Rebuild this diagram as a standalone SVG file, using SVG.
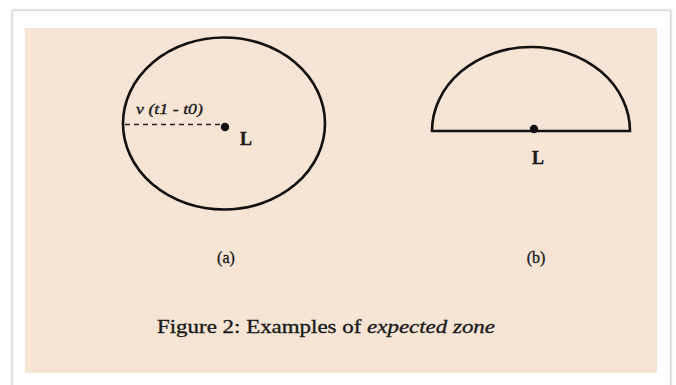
<svg xmlns="http://www.w3.org/2000/svg" width="676" height="385" viewBox="0 0 676 385">
<defs>
<style>
.ln{fill:none;stroke:#111;stroke-width:2.6}
.lbl{fill:#1a1a1a;stroke:#1a1a1a;stroke-width:0.35}
.b{font-weight:bold}
</style>
<filter id="sh" x="-5%" y="-5%" width="110%" height="110%"><feGaussianBlur stdDeviation="1.2"/></filter>
</defs>
<rect width="676" height="385" fill="#ffffff"/>
<g id="frame">
<rect x="13" y="11" width="657" height="380" fill="none" stroke="#b8b8b8" stroke-width="2" filter="url(#sh)"/>
<rect x="13" y="11" width="657" height="380" fill="#ffffff"/>
<rect x="25" y="28" width="632" height="345" fill="#f6e5d5"/>
</g>
<g id="zone-a" font-family="'Liberation Serif', 'Times New Roman', serif">
<ellipse class="ln" cx="224" cy="123.5" rx="101" ry="86"/>
<circle cx="225" cy="127" r="4.2" fill="#111"/>
<text class="lbl b" x="240" y="145" font-size="18">L</text>
<text class="lbl" x="136" y="114" font-size="14" font-style="italic" textLength="67" lengthAdjust="spacingAndGlyphs">v (t1 - t0)</text>
<text class="lbl" x="226" y="263" font-size="16" text-anchor="middle">(a)</text>
</g>
<g id="zone-b" font-family="'Liberation Serif', 'Times New Roman', serif">
<path class="ln" d="M432 131 A99 84 0 0 1 630 131 Z"/>
<circle cx="534" cy="129" r="4.2" fill="#111"/>
<text class="lbl b" x="538" y="164" font-size="18" text-anchor="middle">L</text>
<text class="lbl" x="536" y="263" font-size="16" text-anchor="middle">(b)</text>
</g>
<g id="connectors">
<line x1="125" y1="124.5" x2="221" y2="124.5" stroke="#222" stroke-width="1.6" stroke-dasharray="5,4"/>
</g>
<g id="caption" font-family="'Liberation Serif', 'Times New Roman', serif">
<text class="lbl" x="157" y="333" font-size="19" textLength="338" lengthAdjust="spacingAndGlyphs">Figure 2: Examples of <tspan font-style="italic">expected zone</tspan></text>
</g>
</svg>
